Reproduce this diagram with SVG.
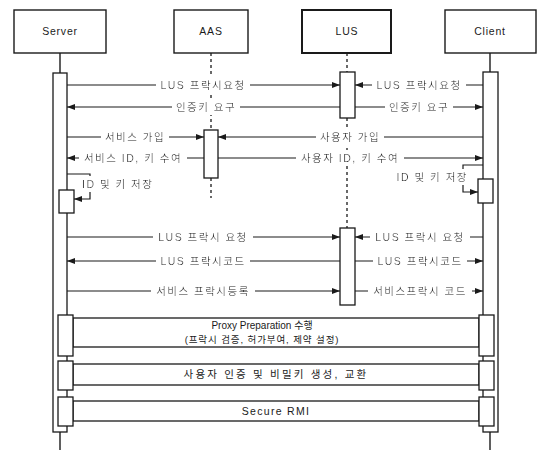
<svg xmlns="http://www.w3.org/2000/svg" width="542" height="450" viewBox="0 0 542 450">
<defs>
<style>
.box{fill:#fff;stroke:#1a1a1a;stroke-width:1.4}
.bar{fill:#fff;stroke:#1a1a1a;stroke-width:1.3}
.life{stroke:#1a1a1a;stroke-width:1.4;fill:none}
.dash{stroke:#1a1a1a;stroke-width:1.3;stroke-dasharray:3 3;fill:none}
.msg{stroke:#1a1a1a;stroke-width:1.2;fill:none}
.hd{font-family:"Liberation Sans","Noto Sans CJK KR",sans-serif;font-size:10.5px;letter-spacing:0.8px;fill:#1a1a1a;text-anchor:middle}
.lbl{font-family:"Liberation Sans","Noto Sans CJK KR",sans-serif;font-size:10.5px;letter-spacing:1.5px;fill:#1a1a1a;text-anchor:middle}
.bt{font-family:"Liberation Sans","Noto Sans CJK KR",sans-serif;fill:#1a1a1a;text-anchor:middle}
</style>
<filter id="wb" x="-0.05" y="-0.1" width="1.1" height="1.2">
<feFlood flood-color="#ffffff"/>
<feComposite in="SourceGraphic" operator="over"/>
</filter>
<marker id="ah" markerWidth="8" markerHeight="6" refX="8" refY="3" orient="auto" markerUnits="userSpaceOnUse">
<path d="M0,0 L8,3 L0,6 z" fill="#1a1a1a"/>
</marker>
</defs>
<rect width="542" height="450" fill="#fff"/>

<g id="server">
<rect class="box" x="14" y="10" width="92" height="43"/>
<text class="hd" x="60" y="35">Server</text>
<line class="life" x1="60" y1="53" x2="60" y2="73"/>
<rect class="bar" x="53" y="73" width="14" height="359"/>
<line class="life" x1="60" y1="432" x2="60" y2="450"/>
<rect class="bar" x="59" y="190" width="15" height="23"/>
</g>

<g id="aas">
<rect class="box" x="174" y="10" width="74" height="43"/>
<text class="hd" x="211" y="35">AAS</text>
<line class="dash" x1="211" y1="53" x2="211" y2="130"/>
<rect class="bar" x="204" y="130" width="14" height="48"/>
<line class="dash" x1="211" y1="178" x2="211" y2="198"/>
</g>

<g id="lus">
<rect class="box" x="302" y="10" width="89" height="43" style="stroke-width:2"/>
<text class="hd" x="347" y="35">LUS</text>
<line class="dash" x1="347" y1="53" x2="347" y2="72"/>
<rect class="bar" x="340" y="72" width="15" height="46"/>
<line class="dash" x1="347" y1="118" x2="347" y2="228"/>
<rect class="bar" x="340" y="228" width="15" height="77"/>
</g>

<g id="client">
<rect class="box" x="445" y="10" width="91" height="43"/>
<text class="hd" x="490" y="35">Client</text>
<line class="life" x1="490" y1="53" x2="490" y2="72"/>
<rect class="bar" x="483" y="72" width="15" height="360"/>
<line class="life" x1="490" y1="432" x2="490" y2="450"/>
<rect class="bar" x="478" y="179" width="15" height="24"/>
</g>

<g id="connectors">
<line class="msg" x1="67" y1="85" x2="340" y2="85" marker-end="url(#ah)"/>
<line class="msg" x1="483" y1="85" x2="355" y2="85" marker-end="url(#ah)"/>
<line class="msg" x1="340" y1="107" x2="67" y2="107" marker-end="url(#ah)"/>
<line class="msg" x1="355" y1="107" x2="483" y2="107" marker-end="url(#ah)"/>
<line class="msg" x1="67" y1="137" x2="204" y2="137" marker-end="url(#ah)"/>
<line class="msg" x1="483" y1="137" x2="218" y2="137" marker-end="url(#ah)"/>
<line class="msg" x1="204" y1="158" x2="67" y2="158" marker-end="url(#ah)"/>
<line class="msg" x1="218" y1="158" x2="483" y2="158" marker-end="url(#ah)"/>
<path class="msg" d="M67,174 H90 V199 H74" marker-end="url(#ah)"/>
<path class="msg" d="M483,165 H463 V192 H478" marker-end="url(#ah)"/>
<line class="msg" x1="67" y1="237" x2="340" y2="237" marker-end="url(#ah)"/>
<line class="msg" x1="483" y1="237" x2="355" y2="237" marker-end="url(#ah)"/>
<line class="msg" x1="340" y1="261" x2="67" y2="261" marker-end="url(#ah)"/>
<line class="msg" x1="355" y1="261" x2="483" y2="261" marker-end="url(#ah)"/>
<line class="msg" x1="67" y1="291" x2="340" y2="291" marker-end="url(#ah)"/>
<line class="msg" x1="355" y1="291" x2="483" y2="291" marker-end="url(#ah)"/>

<text class="lbl" filter="url(#wb)" x="203" y="89">LUS 프락시요청</text>
<text class="lbl" filter="url(#wb)" x="419" y="89">LUS 프락시요청</text>
<text class="lbl" filter="url(#wb)" x="206" y="111">인증키 요구</text>
<text class="lbl" filter="url(#wb)" x="419" y="111">인증키 요구</text>
<text class="lbl" filter="url(#wb)" x="135" y="141">서비스 가입</text>
<text class="lbl" filter="url(#wb)" x="350" y="141">사용자 가입</text>
<text class="lbl" filter="url(#wb)" x="133" y="162">서비스 ID, 키 수여</text>
<text class="lbl" filter="url(#wb)" x="350" y="162">사용자 ID, 키 수여</text>
<text class="lbl" filter="url(#wb)" x="82" y="188" style="text-anchor:start">ID 및 키 저장</text>
<text class="lbl" filter="url(#wb)" x="468" y="181" style="text-anchor:end">ID 및 키 저장</text>
<text class="lbl" filter="url(#wb)" x="203" y="241">LUS 프락시 요청</text>
<text class="lbl" filter="url(#wb)" x="420" y="241">LUS 프락시 요청</text>
<text class="lbl" filter="url(#wb)" x="203" y="265">LUS 프락시코드</text>
<text class="lbl" filter="url(#wb)" x="420" y="265">LUS 프락시코드</text>
<text class="lbl" filter="url(#wb)" x="203" y="295">서비스 프락시등록</text>
<text class="lbl" filter="url(#wb)" x="420" y="295">서비스프락시 코드</text>
</g>

<g id="band-proxy">
<rect class="bar" x="73" y="318" width="406" height="29"/>
<rect class="bar" x="58" y="315" width="15" height="41"/>
<rect class="bar" x="479" y="315" width="15" height="41"/>
<text class="bt" x="262" y="329" style="font-size:10px">Proxy Preparation 수행</text>
<text class="bt" x="262" y="343" style="font-size:9.5px;letter-spacing:0.9px">(프락시 검증, 허가부여, 제약 설정)</text>
</g>
<g id="band-auth">
<rect class="bar" x="73" y="364" width="406" height="21"/>
<rect class="bar" x="58" y="361" width="15" height="29"/>
<rect class="bar" x="479" y="361" width="15" height="29"/>
<text class="bt" x="276" y="378" style="font-size:10.5px;letter-spacing:2.2px">사용자 인증 및 비밀키 생성, 교환</text>
</g>
<g id="band-rmi">
<rect class="bar" x="73" y="401" width="406" height="20"/>
<rect class="bar" x="58" y="397" width="15" height="29"/>
<rect class="bar" x="479" y="397" width="15" height="29"/>
<text class="bt" x="276" y="415" style="font-size:10.5px;letter-spacing:1.3px">Secure RMI</text>
</g>
</svg>
